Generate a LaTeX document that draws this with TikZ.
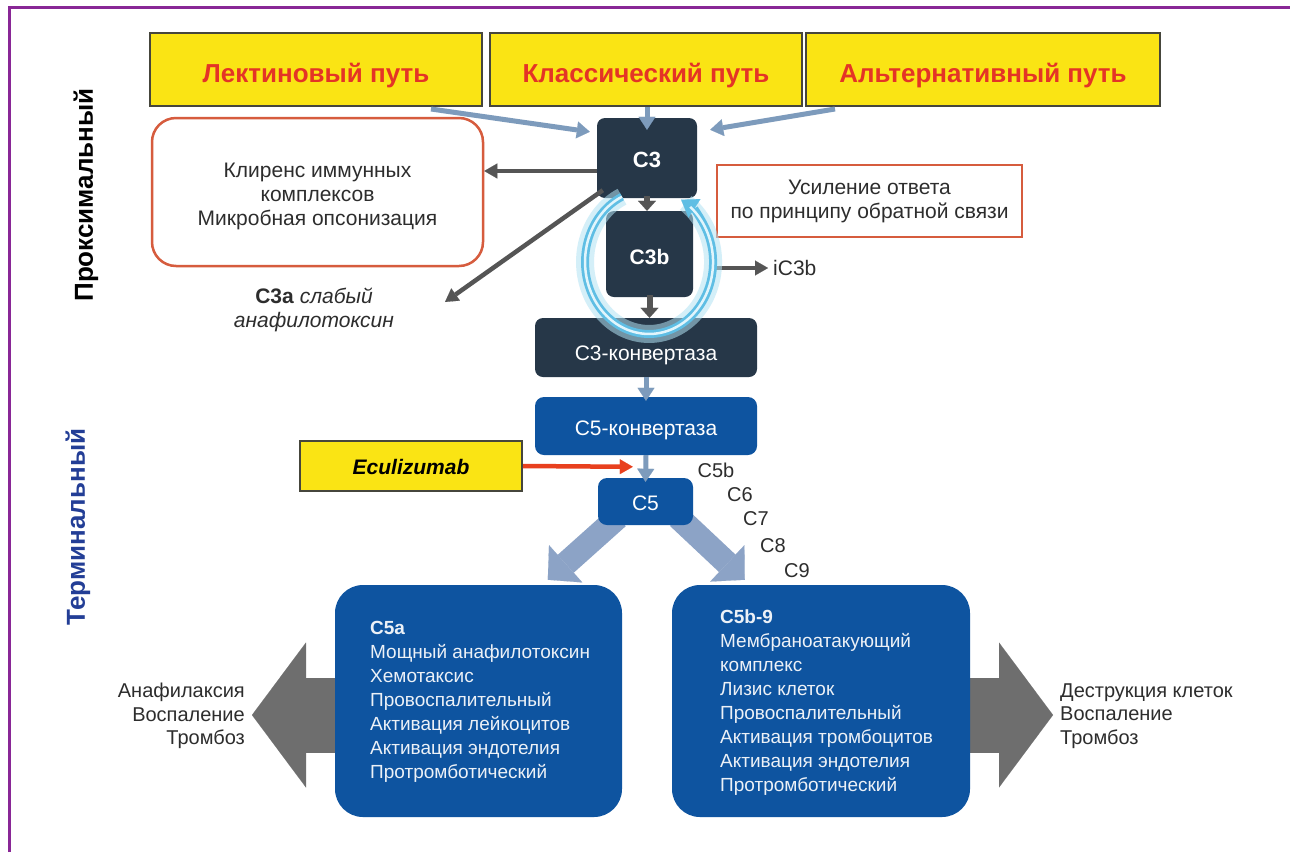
\documentclass[tikz,border=0pt]{standalone}
\usepackage{fontspec}
\setmainfont{Liberation Sans}
\usetikzlibrary{arrows.meta,backgrounds}
\definecolor{purp}{RGB}{137,39,150}
\definecolor{yel}{RGB}{250,228,20}
\definecolor{ybord}{RGB}{70,70,60}
\definecolor{redt}{RGB}{228,52,38}
\definecolor{slate}{RGB}{38,55,72}
\definecolor{blu}{RGB}{14,84,160}
\definecolor{orng}{RGB}{214,92,62}
\definecolor{txt}{RGB}{45,45,45}
\definecolor{steel}{RGB}{125,155,188}
\definecolor{dgray}{RGB}{85,85,85}
\definecolor{wblue}{RGB}{140,163,198}
\definecolor{bgray}{RGB}{110,110,110}
\definecolor{tblue}{RGB}{35,62,150}
\definecolor{ecred}{RGB}{232,64,30}
\definecolor{glowa}{RGB}{178,226,243}
\definecolor{glowb}{RGB}{95,190,228}
\definecolor{glowc}{RGB}{225,245,252}
\begin{document}
\begin{tikzpicture}[x=1pt,y=1pt,
  ybox/.style={draw=ybord, line width=2pt, fill=yel, text=redt, font=\fontsize{26}{30}\selectfont\bfseries, inner sep=0pt, text height=28.6pt, text depth=3pt},
  dbox/.style={fill=slate, rounded corners=8pt, text=white, inner sep=0pt, font=\fontsize{21}{24}\selectfont},
  bbox/.style={fill=blu, rounded corners=9pt, text=white, inner sep=0pt, font=\fontsize{21}{24}\selectfont},
  bigbox/.style={fill=blu, rounded corners=28pt, inner sep=0pt},
  obox/.style={draw=orng, line width=2.5pt, fill=white, inner sep=0pt, text=txt, align=center, font=\fontsize{21}{24}\selectfont},
  lbl/.style={text=txt, inner sep=0pt, font=\fontsize{21}{24}\selectfont},
  btxt/.style={text=white!92!blu, inner sep=0pt, align=left, font=\fontsize{19}{24}\selectfont},
  vlab/.style={rotate=90, inner sep=0pt, font=\fontsize{26}{30}\selectfont\bfseries},
  sarr/.style={draw=steel, line width=5pt, -{Triangle[length=13pt,width=17pt,line width=0.1pt]}},
  garr/.style={draw=dgray, line width=4.5pt, -{Triangle[length=13pt,width=15pt,line width=0.1pt]}},
  ecarr/.style={draw=ecred, line width=4.5pt, -{Triangle[length=13pt,width=15pt,line width=0.1pt]}},
  warr/.style={draw=wblue, line width=24pt, -{Triangle[length=24pt,width=50pt,line width=0.1pt]}},
  barr/.style={draw=bgray, line width=75pt, -{Triangle[length=54pt,width=145pt,line width=0.1pt]}},
]
\useasboundingbox (0,0) rectangle (1290,-852);

% pathway boxes
\node[ybox, minimum width=332pt, minimum height=73pt] (lect) at (316,-69.5) {Лектиновый путь};
\node[ybox, minimum width=312pt, minimum height=73pt] (clas) at (646,-69.5) {Классический путь};
\node[ybox, minimum width=354pt, minimum height=73pt] (alt) at (983,-69.5) {Альтернативный путь};

\node[obox, minimum width=331pt, minimum height=148pt, rounded corners=24pt] (clr) at (317.5,-192) {\rule{0pt}{23pt}Клиренс иммунных\\комплексов\\Микробная опсонизация};
\node[obox, minimum width=305pt, minimum height=72pt] (fb) at (869.5,-201) {Усиление ответа\\по принципу обратной связи};

\node[dbox, minimum width=100pt, minimum height=80pt, font=\fontsize{22}{24}\selectfont\bfseries, text height=18pt, text depth=0pt] (c3) at (647,-158) {C3};
\node[dbox, minimum width=87pt, minimum height=86pt, font=\fontsize{21}{24}\selectfont\bfseries, text height=20pt, text depth=0pt] (c3b) at (649.5,-254) {C3b};
\node[dbox, minimum width=222pt, minimum height=59pt, text height=28pt, text depth=2pt] (c3k) at (646,-347.5) {C3-конвертаза};

\node[bbox, minimum width=222pt, minimum height=58pt, text height=22pt, text depth=3pt] (c5k) at (646,-426) {C5-конвертаза};
\node[ybox, minimum width=222pt, minimum height=50pt, text=black, font=\fontsize{21}{24}\selectfont\bfseries\itshape, text height=19pt, text depth=2pt] (ecu) at (411,-466) {Eculizumab};
\node[bbox, minimum width=95pt, minimum height=47pt, text height=18pt, text depth=0pt] (c5) at (645.5,-501.5) {C5};

\node[bigbox, minimum width=287pt, minimum height=232pt] (c5a) at (478.5,-701) {};
\node[bigbox, minimum width=298pt, minimum height=232pt] (c5b9) at (821,-701) {};
\node[btxt, anchor=north west] (c5at) at (370,-621) {\textbf{C5a}\\Мощный анафилотоксин\\Хемотаксис\\Провоспалительный\\Активация лейкоцитов\\Активация эндотелия\\Протромботический};
\node[btxt, anchor=north west] (c5bt) at (720,-610) {\textbf{C5b-9}\\Мембраноатакующий\\комплекс\\Лизис клеток\\Провоспалительный\\Активация тромбоцитов\\Активация эндотелия\\Протромботический};

% labels
\node[lbl, align=center] (c3a) at (314,-310) {\textbf{C3a} \textit{слабый}\\\textit{анафилотоксин}};
\node[lbl, anchor=west] (ic3b) at (773,-268) {iC3b};
\node[vlab] (prox) at (86,-195) {Проксимальный};
\node[vlab, text=tblue] (term) at (78,-527) {Терминальный};
\node[lbl, align=right, anchor=east, font=\fontsize{20}{23.5}\selectfont] (effl) at (245,-716) {Анафилаксия\\Воспаление\\Тромбоз};
\node[lbl, align=left, anchor=west, font=\fontsize{20}{23.5}\selectfont] (effr) at (1060,-716) {Деструкция клеток\\Воспаление\\Тромбоз};
\node[lbl, font=\fontsize{20}{24}\selectfont] (l5b) at (716,-470) {C5b};
\node[lbl, font=\fontsize{20}{24}\selectfont] (l6) at (740,-495) {C6};
\node[lbl, font=\fontsize{20}{24}\selectfont] (l7) at (756,-519) {C7};
\node[lbl, font=\fontsize{20}{24}\selectfont] (l8) at (773,-546) {C8};
\node[lbl, font=\fontsize{20}{24}\selectfont] (l9) at (797,-571) {C9};

\coordinate (c3aend) at (445,-302);
\coordinate (tipl) at (252,-715);
\coordinate (tipr) at (1053,-715);

% connectors on top
\draw[sarr] ([shift={(-52,-2)}]lect.south east) -- ([shift={(-7,-14)}]c3.north west);
\draw[sarr] (clas.south -| c3.north) -- ([yshift=-12pt]c3.north);
\draw[sarr] ([shift={(30,-2)}]alt.south west) -- ([shift={(13,-12)}]c3.north east);
\draw[garr] ([yshift=-13pt]c3.west) -- ([yshift=21pt]clr.east);
\draw[garr] ([shift={(6,8)}]c3.south west) -- (c3aend);
\draw[garr, line width=6pt, -{Triangle[length=10pt,width=18pt,line width=0.1pt]}] ([yshift=2pt]c3.south) -- (c3.south |- c3b.north);
\draw[garr, line width=6pt, -{Triangle[length=10pt,width=18pt,line width=0.1pt]}] ([yshift=2pt]c3b.south) -- (c3b.south |- c3k.north);
\draw[garr] ([shift={(22,-14)}]c3b.east) -- ([xshift=-5pt]ic3b.west);
\draw[sarr] (c3k.south) -- ([yshift=-4pt]c5k.north);
\draw[sarr] (c5k.south) -- ([yshift=-4pt]c5.north);
\draw[ecarr] (ecu.east) -- ([shift={(35,11)}]c5.north west);

% feedback loop
\draw[glowa, line width=18pt, opacity=0.55] (622,-196.7) arc[start angle=115,end angle=415,x radius=64,y radius=72];
\draw[glowb, line width=8pt, -{Triangle[length=16pt,width=22pt,line width=0.1pt]}] (622,-196.7) arc[start angle=115,end angle=420,x radius=64,y radius=72];
\draw[glowc, line width=2.5pt] (622,-196.7) arc[start angle=115,end angle=410,x radius=64,y radius=72];

\begin{pgfonlayer}{background}
\fill[white] (0,0) rectangle (1290,-852);
\draw[warr] ([shift={(20,8)}]c5.south west) -- ([shift={(213,5)}]c5a.north west);
\draw[warr] ([shift={(-15,8)}]c5.south east) -- ([shift={(73,5)}]c5b9.north west);
\draw[barr] ([shift={(5,-14)}]c5a.west) -- (tipl);
\draw[barr] ([shift={(-5,-14)}]c5b9.east) -- (tipr);
\draw[purp, line width=3pt] (9,-852) -- (9,-7) -- (1290,-7);
\end{pgfonlayer}
\end{tikzpicture}
\end{document}
